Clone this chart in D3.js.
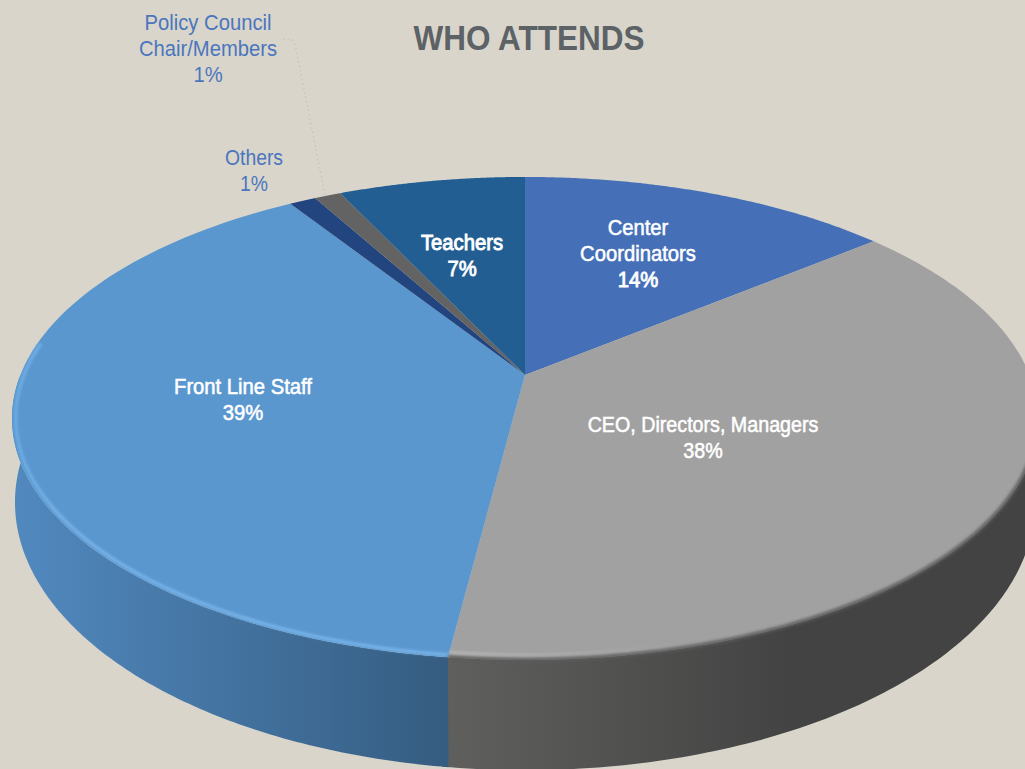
<!DOCTYPE html>
<html>
<head>
<meta charset="utf-8">
<script src="https://cdnjs.cloudflare.com/ajax/libs/d3/7.8.5/d3.min.js"></script>
<style>
html,body{margin:0;padding:0;background:#d9d5cb;overflow:hidden}
svg{display:block}
text{font-family:"Liberation Sans",Arial,sans-serif;text-anchor:middle}
</style>
</head>
<body>
<svg id="chart" width="1025" height="769"></svg>
<script>
// Attendance shares, clockwise from twelve o'clock
const categories = ["Center Coordinators", "CEO, Directors, Managers", "Front Line Staff", "Others", "Policy Council Chair/Members", "Teachers"];
const shares = [14, 38, 39, 1, 1, 7];
const topColors = ["#4570b8", "#a1a1a1", "#5b97cf", "#224580", "#636363", "#235e92"];

// Label lines and where each block of text sits
const labelLines = [
  ["Center", "Coordinators", "14%"],
  ["CEO, Directors, Managers", "38%"],
  ["Front Line Staff", "39%"],
  ["Others", "1%"],
  ["Policy Council", "Chair/Members", "1%"],
  ["Teachers", "7%"]
];
const labelAnchors = [[638, 235], [703, 432], [243, 394], [254, 165], [208, 30], [462, 250]];

const svg = d3.select("#chart");
const defs = svg.append("defs");

// Tilted-disc projection: a unit circle seen in perspective
const tilt = 0.18;
const topPlane = {cx: 525, cy: 375, a: 504.6, b: 233.7};
const basePlane = {cx: 525, cy: 454, a: 501.7, b: 259.3};
const project = (plane, angle, r = 1) => {
  const u = r * Math.sin(angle), v = -r * Math.cos(angle), w = 1 - tilt * v;
  return [plane.cx + plane.a * u / w, plane.cy + plane.b * v / w];
};

const pie = d3.pie().sort(null).startAngle(0).endAngle(2 * Math.PI);
const slices = pie(shares);
const line = d3.line();
const arcAngles = (a0, a1) => d3.range(0, 121).map(i => a0 + (a1 - a0) * i / 120);
const deg = Math.PI / 180;

// Side-wall shading
const addGradient = (id, x1, x2, stops) => {
  const g = defs.append("linearGradient").attr("id", id).attr("gradientUnits", "userSpaceOnUse")
    .attr("x1", x1).attr("x2", x2).attr("y1", 0).attr("y2", 0);
  stops.forEach(([o, c, op]) => g.append("stop").attr("offset", o).attr("stop-color", c).attr("stop-opacity", op));
};
addGradient("wallBlue", 15, 450, [[0, "#5189bf", 1], [1, "#355c80", 1]]);
addGradient("wallGrey", 450, 790, [[0, "#5f5f5d", 1], [1, "#434343", 1]]);
addGradient("rimGlow", 450, 680, [[0, "#b4b4b4", 1], [1, "#b4b4b4", 0]]);
addGradient("rimBlue", 13, 60, [[0, "#6fb0e8", 0.75], [1, "#74b1e6", 1]]);
const blur = (id, s) => defs.append("filter").attr("id", id)
  .attr("x", "-5%").attr("y", "-5%").attr("width", "110%").attr("height", "110%")
  .append("feGaussianBlur").attr("stdDeviation", s);
blur("soft1", 1);
blur("soft2", 1.8);

// Only the front half of the rim has a visible wall
const wallFrom = 90 * deg, wallTo = 270 * deg;
const walls = svg.append("g");
const wallArc = (a0, a1, fill) => {
  const angles = arcAngles(Math.max(a0, wallFrom), Math.min(a1, wallTo));
  const pts = angles.map(a => project(topPlane, a))
    .concat(angles.slice().reverse().map(a => project(basePlane, a)));
  walls.append("path").attr("d", line(pts) + "Z").attr("fill", fill);
};
// The grey wall runs slightly under the blue one so no seam shows
wallArc(slices[1].startAngle, slices[1].endAngle + 0.6 * deg, "url(#wallGrey)");
wallArc(slices[2].startAngle, slices[2].endAngle, "url(#wallBlue)");

// Top faces
svg.append("g").selectAll("path").data(slices).join("path")
  .attr("d", s => line([[topPlane.cx, topPlane.cy]].concat(arcAngles(s.startAngle, s.endAngle).map(a => project(topPlane, a)))) + "Z")
  .attr("fill", (s, i) => topColors[i]);

// Bevel along the front rim only
const rim = svg.append("g");
const rimPath = (a0, a1, r) => line(arcAngles(a0, a1).map(a => project(topPlane, a, r)));
rim.append("path").attr("d", rimPath(slices[2].startAngle, 278 * deg, 0.993))
  .attr("fill", "none").attr("stroke", "url(#rimBlue)").attr("stroke-width", 3.5).attr("filter", "url(#soft1)");
rim.append("path").attr("d", rimPath(96 * deg, slices[1].endAngle, 0.999))
  .attr("fill", "none").attr("stroke", "#5c5c5c").attr("stroke-width", 3.5).attr("filter", "url(#soft2)");
rim.append("path").attr("d", rimPath(130 * deg, slices[1].endAngle, 0.985))
  .attr("fill", "none").attr("stroke", "url(#rimGlow)").attr("stroke-width", 3).attr("filter", "url(#soft1)");

// Leader from the small slice up to its label
svg.append("path").attr("d", line([[283, 39], [292, 40], [295, 44], [325, 195]]))
  .attr("fill", "none").attr("stroke", "#b8c4cc").attr("stroke-width", 1.2).attr("stroke-dasharray", "1.5 3");

// Title
svg.append("text").attr("transform", "translate(529,50) scale(0.875,1)")
  .attr("font-size", 36).attr("font-weight", 700).attr("fill", "#5c6266").text("WHO ATTENDS");

// Slice labels
const outside = new Set([3, 4]);
labelLines.forEach((lines, i) => {
  const [x, y] = labelAnchors[i];
  lines.forEach((t, j) => {
    const emphatic = (i === 0 && j === 2) || i === 5;
    svg.append("text")
      .attr("transform", `translate(${x},${y + j * 26}) scale(${i === 3 ? 0.88 : i === 1 ? 0.895 : 0.92},1)`)
      .attr("font-size", 22)
      .attr("fill", outside.has(i) ? "#4a76bd" : "#ffffff")
      .attr("stroke", outside.has(i) ? "none" : "#ffffff")
      .attr("stroke-width", outside.has(i) ? 0 : emphatic ? 0.9 : 0.55)
      .text(t);
  });
});
</script>
</body>
</html>
